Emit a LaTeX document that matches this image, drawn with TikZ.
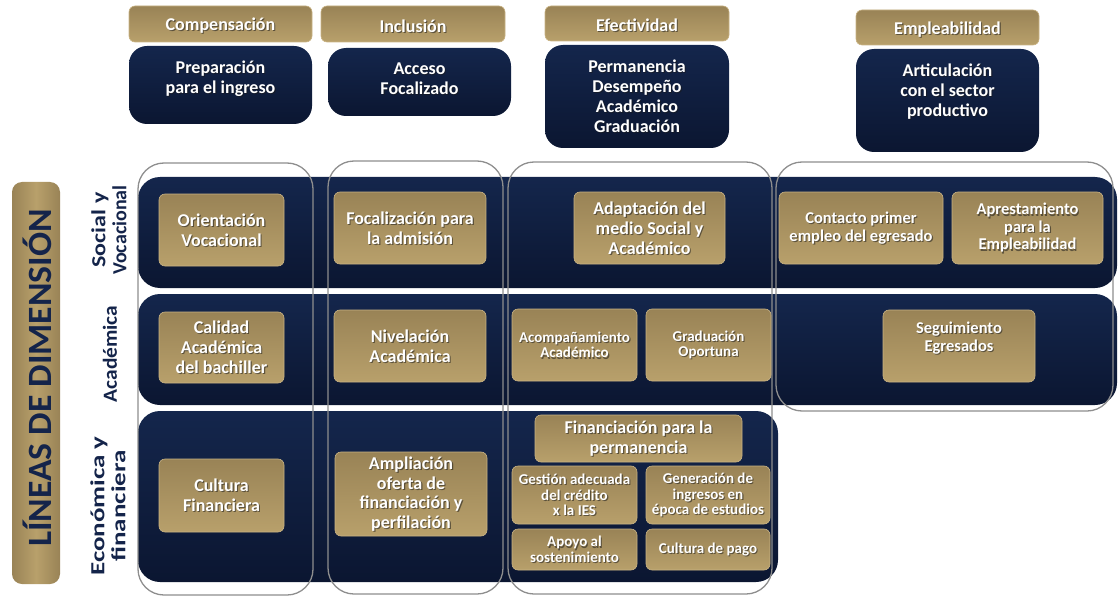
\documentclass[tikz,border=0pt]{standalone}
\usepackage{fontspec}
\setmainfont{Carlito}
\usepackage{graphicx}
\definecolor{navy}{HTML}{14264C}
\definecolor{navyD}{HTML}{0B1631}
\definecolor{goldD}{HTML}{998356}
\definecolor{goldL}{HTML}{B8A06B}
\definecolor{goldE}{HTML}{C9B384}
\definecolor{outl}{HTML}{8E8E8E}
\definecolor{lbl}{HTML}{14244A}
\definecolor{shad}{HTML}{1A1A1A}
\tikzset{
  gold/.style={rounded corners=6pt, top color=goldD, bottom color=goldL, draw=goldE, line width=0.6pt, inner sep=0pt},
  navybox/.style={rounded corners=18pt, top color=navy, bottom color=navyD, inner sep=0pt},
  band/.style={rounded corners=22pt, top color=navy, bottom color=navyD, inner sep=0pt},
  colframe/.style={rounded corners=26pt, draw=outl, line width=1.3pt, inner sep=0pt},
  lbar/.style={rounded corners=10pt, left color=goldD, right color=goldD, middle color=goldL, inner sep=0pt},
  wtxt/.style={text=white, align=center, font=\bfseries\fontsize{18}{20}\selectfont, inner sep=0pt},
  wsmall/.style={wtxt, font=\bfseries\fontsize{15}{15.5}\selectfont},
  wmid/.style={wtxt, font=\bfseries\fontsize{16.5}{17.5}\selectfont},
  htxt/.style={wtxt, yshift=-2pt},
  tshadow/.style={text=shad, text opacity=0.55, xshift=1.1pt, yshift=-1.1pt},
  rowlbl/.style={text=lbl, align=center, rotate=90, font=\bfseries\fontsize{20}{21}\selectfont, inner sep=0pt},
}
% name, shape style, x1, y1, x2, y2
\newcommand\shp[6]{\node[#2, minimum width={#5-#3}, minimum height={#6-#4}] (#1) at ({(#3+#5)/2},{(#4+#6)/2}) {};}
% name, shape style, x1, y1, x2, y2, text style, text
\newcommand\bx[8]{\shp{#1}{#2}{#3}{#4}{#5}{#6}%
  \node[#7, tshadow] (#1-s) at (#1.center) {#8};%
  \node[#7] (#1-t) at (#1.center) {#8};}
\begin{document}
\begin{tikzpicture}[x=1pt, y=-1pt]
\useasboundingbox (0,0) rectangle (1118,596);
% row bands
\shp{r1}{band}{138}{177}{1117}{288}
\shp{r2}{band}{138}{294}{1117}{405}
\shp{r3}{band}{138}{411}{778}{582}
% column frames
\shp{c1}{colframe}{138}{163}{313}{595}
\shp{c2}{colframe}{328}{161}{503}{594}
\shp{c3}{colframe}{508}{162}{772}{594}
\shp{c4}{colframe}{776}{162}{1113}{411}
% cells row 1
\bx{oriVoc}{gold}{159}{194}{284}{266}{wtxt}{Orientación\\Vocacional}
\bx{focAdm}{gold}{334}{192}{486}{264}{wtxt}{Focalización para\\la admisión}
\bx{adapt}{gold}{574}{192}{725}{264}{wtxt}{Adaptación del\\medio Social y\\Académico}
\bx{contacto}{gold}{779}{192}{943}{264}{wmid}{Contacto primer\\empleo del egresado}
\bx{apresta}{gold}{952}{192}{1103}{264}{wmid}{Aprestamiento\\para la\\Empleabilidad}
% cells row 2
\bx{calidad}{gold}{159}{312}{284}{383}{wtxt}{Calidad\\Académica\\del bachiller}
\bx{nivel}{gold}{334}{310}{486}{382}{wtxt}{Nivelación\\Académica}
\bx{acomp}{gold}{512}{309}{637}{381}{wsmall}{Acompañamiento\\Académico}
\bx{gradOp}{gold}{646}{309}{771}{381}{wsmall}{Graduación\\Oportuna}
\bx{segui}{gold}{883}{310}{1035}{382}{wmid, yshift=8pt}{Seguimiento\\Egresados}
% cells row 3
\bx{cultFin}{gold}{159}{459}{284}{532}{wtxt}{Cultura\\Financiera}
\bx{ampl}{gold}{335}{452}{487}{536}{wtxt, font=\bfseries\fontsize{18}{19.5}\selectfont}{Ampliación\\oferta de\\financiación y\\perfilación}
\bx{finPerm}{gold}{535}{415}{742}{462}{wtxt}{Financiación para la\\permanencia}
\bx{gestion}{gold}{512}{466}{637}{524}{wsmall}{Gestión adecuada\\del crédito\\x la IES}
\bx{generac}{gold}{646}{466}{770}{524}{wsmall}{Generación de\\ingresos en\\época de estudios}
\bx{apoyo}{gold}{512}{529}{637}{570}{wsmall}{Apoyo al\\sostenimiento}
\bx{cultPago}{gold}{646}{529}{770}{570}{wsmall}{Cultura de pago}
% headers
\bx{hComp}{gold}{129}{6}{312}{42}{htxt}{Compensación}
\bx{hIncl}{gold}{321}{6}{505}{42}{htxt}{Inclusión}
\bx{hEfec}{gold}{545}{6}{729}{41}{htxt}{Efectividad}
\bx{hEmpl}{gold}{856}{10}{1039}{45}{htxt}{Empleabilidad}
% navy objective boxes
\bx{nPrep}{navybox}{129}{46}{312}{124}{wtxt, yshift=6pt}{Preparación\\para el ingreso}
\bx{nAcc}{navybox}{328}{48}{511}{116}{wtxt, yshift=3pt}{Acceso\\Focalizado}
\bx{nPerm}{navybox}{545}{45}{729}{148}{wtxt}{Permanencia\\Desempeño\\Académico\\Graduación}
\bx{nArt}{navybox}{856}{49}{1039}{152}{wtxt, yshift=9pt}{Articulación\\con el sector\\productivo}
% left bar and row labels
\shp{lbar}{lbar}{12}{182}{60}{584}
\node[rotate=90, text=lbl, inner sep=0pt, font=\bfseries\fontsize{34}{36}\selectfont] (lineas) at (37,378) {\scalebox{1.05}[1]{LÍNEAS DE DIMENSIÓN}};
\node[rowlbl] (lsoc) at (109,230) {\scalebox{1.2}[1]{Social y}\\Vocacional};
\node[rowlbl] (laca) at (110,354) {\scalebox{1.07}[1]{Académica}};
\node[rowlbl] (leco) at (108,506) {\scalebox{1.35}[1]{Económica y}\\\scalebox{1.35}[1]{financiera}};
\end{tikzpicture}
\end{document}
